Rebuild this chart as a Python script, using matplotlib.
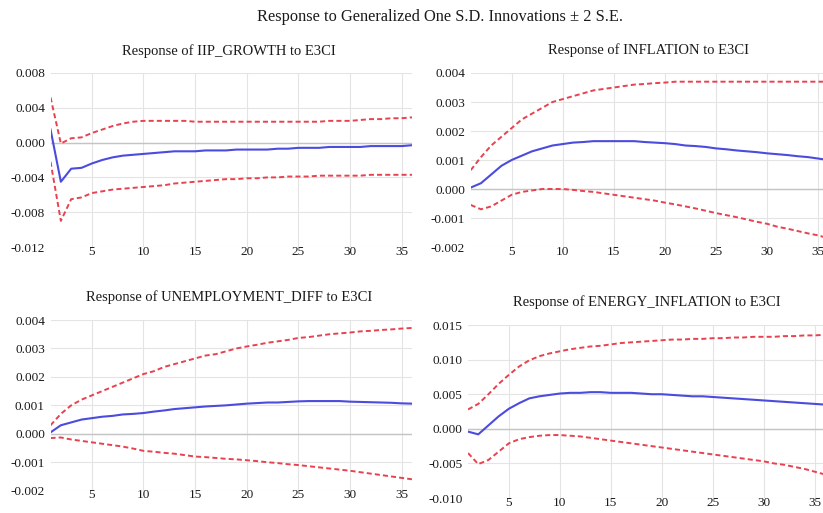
import numpy as np
import matplotlib
matplotlib.use("Agg")
import matplotlib.pyplot as plt

plt.rcParams['font.family'] = ['Liberation Serif', 'DejaVu Serif']

periods = np.arange(1, 37)

# IIP_GROWTH response
iip_resp = [0.0015, -0.0045, -0.0030, -0.0029, -0.0024, -0.0020, -0.0017, -0.0015, -0.0014,
            -0.0013, -0.0012, -0.0011, -0.0010, -0.0010, -0.0010, -0.0009, -0.0009, -0.0009,
            -0.0008, -0.0008, -0.0008, -0.0008, -0.0007, -0.0007, -0.0006, -0.0006, -0.0006,
            -0.0005, -0.0005, -0.0005, -0.0005, -0.0004, -0.0004, -0.0004, -0.0004, -0.0003]
iip_upper = [0.0052, -0.0001, 0.0005, 0.0006, 0.0011, 0.0015, 0.0019, 0.0022, 0.0024,
             0.0025, 0.0025, 0.0025, 0.0025, 0.0025, 0.0024, 0.0024, 0.0024, 0.0024,
             0.0024, 0.0024, 0.0024, 0.0024, 0.0024, 0.0024, 0.0024, 0.0024, 0.0024,
             0.0025, 0.0025, 0.0025, 0.0026, 0.0027, 0.0027, 0.0028, 0.0028, 0.0029]
iip_lower = [-0.0022, -0.0090, -0.0065, -0.0063, -0.0058, -0.0056, -0.0054, -0.0053, -0.0052,
             -0.0051, -0.0050, -0.0049, -0.0047, -0.0046, -0.0045, -0.0044, -0.0043, -0.0042,
             -0.0042, -0.0041, -0.0041, -0.0040, -0.0040, -0.0039, -0.0039, -0.0039, -0.0038,
             -0.0038, -0.0038, -0.0038, -0.0038, -0.0037, -0.0037, -0.0037, -0.0037, -0.0037]

# INFLATION response
infl_resp = [0.00005, 0.0002, 0.0005, 0.0008, 0.0010, 0.00115, 0.0013, 0.0014, 0.0015,
             0.00155, 0.0016, 0.00162, 0.00165, 0.00165, 0.00165, 0.00165, 0.00165, 0.00162,
             0.0016, 0.00158, 0.00155, 0.0015, 0.00148, 0.00145, 0.0014, 0.00137, 0.00133,
             0.0013, 0.00127, 0.00123, 0.0012, 0.00117, 0.00113, 0.0011, 0.00105, 0.0010]
infl_upper = [0.00065, 0.0011, 0.0015, 0.0018, 0.0021, 0.0024, 0.0026, 0.0028, 0.0030,
              0.0031, 0.0032, 0.0033, 0.0034, 0.00345, 0.0035, 0.00355, 0.0036, 0.00362,
              0.00365, 0.00367, 0.0037, 0.0037, 0.0037, 0.0037, 0.0037, 0.0037, 0.0037,
              0.0037, 0.0037, 0.0037, 0.0037, 0.0037, 0.0037, 0.0037, 0.0037, 0.0037]
infl_lower = [-0.00055, -0.0007, -0.0006, -0.0004, -0.0002, -0.0001, -0.00005, 0.0, 0.0,
              0.0, -0.00003, -0.00007, -0.0001, -0.00015, -0.0002, -0.00025, -0.0003, -0.00035,
              -0.0004, -0.00047, -0.00053, -0.0006, -0.00067, -0.00075, -0.00083, -0.0009, -0.00097,
              -0.00105, -0.00113, -0.0012, -0.0013, -0.00137, -0.00145, -0.00153, -0.0016, -0.0017]

# UNEMPLOYMENT_DIFF response
unemp_resp = [0.00005, 0.0003, 0.0004, 0.0005, 0.00055, 0.0006, 0.00063, 0.00068, 0.0007,
              0.00073, 0.00078, 0.00082, 0.00087, 0.0009, 0.00093, 0.00096, 0.00098, 0.0010,
              0.00103, 0.00106, 0.00108, 0.0011, 0.0011, 0.00112, 0.00114, 0.00115, 0.00115,
              0.00115, 0.00115, 0.00113, 0.00112, 0.00111, 0.0011, 0.00109, 0.00107, 0.00106]
unemp_upper = [0.0003, 0.0007, 0.0010, 0.0012, 0.00135, 0.0015, 0.00165, 0.0018, 0.00195,
               0.0021, 0.0022, 0.00235, 0.00245, 0.00255, 0.00265, 0.00275, 0.0028, 0.0029,
               0.0030, 0.00307, 0.00313, 0.0032, 0.00325, 0.0033, 0.00337, 0.0034, 0.00345,
               0.0035, 0.00353, 0.00356, 0.0036, 0.00362, 0.00365, 0.00367, 0.0037, 0.00372]
unemp_lower = [-0.00015, -0.00013, -0.0002, -0.00025, -0.0003, -0.00035, -0.0004, -0.00045, -0.00052,
               -0.0006, -0.00063, -0.00067, -0.0007, -0.00075, -0.0008, -0.00082, -0.00085, -0.00088,
               -0.0009, -0.00093, -0.00096, -0.0010, -0.00103, -0.00107, -0.0011, -0.00114, -0.00118,
               -0.00122, -0.00126, -0.0013, -0.00135, -0.0014, -0.00145, -0.0015, -0.00155, -0.0016]

# ENERGY_INFLATION response
energy_resp = [-0.0004, -0.0008, 0.0005, 0.0018, 0.0029, 0.0037, 0.0044, 0.0047, 0.0049,
               0.0051, 0.0052, 0.0052, 0.0053, 0.0053, 0.0052, 0.0052, 0.0052, 0.0051,
               0.0050, 0.0050, 0.0049, 0.0048, 0.0047, 0.0047, 0.0046, 0.0045, 0.0044,
               0.0043, 0.0042, 0.0041, 0.0040, 0.0039, 0.0038, 0.0037, 0.0036, 0.0035]
energy_upper = [0.0028, 0.0036, 0.0050, 0.0065, 0.0078, 0.0090, 0.0099, 0.0105, 0.0109,
                0.0112, 0.0115, 0.0117, 0.0119, 0.0120, 0.0122, 0.0124, 0.0125, 0.0126,
                0.0127, 0.0128, 0.0129, 0.0129, 0.0130, 0.0130, 0.0131, 0.0131, 0.0132,
                0.0132, 0.0133, 0.0133, 0.0133, 0.0134, 0.0134, 0.0135, 0.0135, 0.0136]
energy_lower = [-0.0035, -0.0051, -0.0045, -0.0033, -0.0021, -0.0015, -0.0012, -0.0010, -0.0009,
                -0.0009, -0.0010, -0.0011, -0.0013, -0.0015, -0.0017, -0.0019, -0.0021, -0.0023,
                -0.0025, -0.0027, -0.0029, -0.0031, -0.0033, -0.0035, -0.0037, -0.0039, -0.0041,
                -0.0043, -0.0045, -0.0047, -0.0050, -0.0052, -0.0055, -0.0058, -0.0062, -0.0066]

panels = [
    ("Response of IIP_GROWTH to E3CI", iip_resp, iip_upper, iip_lower,
     [-0.012, -0.008, -0.004, 0.0, 0.004, 0.008]),
    ("Response of INFLATION to E3CI", infl_resp, infl_upper, infl_lower,
     [-0.002, -0.001, 0.0, 0.001, 0.002, 0.003, 0.004]),
    ("Response of UNEMPLOYMENT_DIFF to E3CI", unemp_resp, unemp_upper, unemp_lower,
     [-0.002, -0.001, 0.0, 0.001, 0.002, 0.003, 0.004]),
    ("Response of ENERGY_INFLATION to E3CI", energy_resp, energy_upper, energy_lower,
     [-0.010, -0.005, 0.0, 0.005, 0.010, 0.015]),
]

# axes rectangles in figure fractions (right column runs past the figure edge)
rects = [
    [0.0614, 0.5185, 0.4392, 0.3392],
    [0.5720, 0.5185, 0.4346, 0.3392],
    [0.0614, 0.0435, 0.4392, 0.3327],
    [0.5687, 0.0292, 0.4338, 0.3372],
]
title_x = [229, 648, 229, 647]
title_y = [51, 50, 297, 302]

blue = '#4b4be0'
red = '#e8414f'
dash = (0, (2.6, 1.6))
W, H = 823, 513

fig = plt.figure(figsize=(W / 100, H / 100), dpi=100)

for (title, resp, upper, lower, yticks), rect, tx, ty in zip(panels, rects, title_x, title_y):
    ax = fig.add_axes(rect)
    for s in ax.spines.values():
        s.set_visible(False)
    ax.set_xlim(1, 36)
    ax.set_ylim(yticks[0], yticks[-1])
    ax.set_xticks([5, 10, 15, 20, 25, 30, 35])
    ax.set_yticks(yticks)
    ax.set_yticklabels([f"{v:.3f}" for v in yticks])
    ax.grid(True, color='#e4e4e4', linewidth=0.8)
    ax.set_axisbelow(True)
    ax.axhline(0, color='#c4c4c4', linewidth=1.0, zorder=1)
    ax.tick_params(axis='both', length=0, labelsize=9.5, colors='#1a1a1a')
    ax.tick_params(axis='x', pad=-1)
    ax.tick_params(axis='y', pad=4)
    ax.plot(periods, upper, color=red, linestyle=dash, linewidth=1.4, zorder=3)
    ax.plot(periods, lower, color=red, linestyle=dash, linewidth=1.4, zorder=3)
    ax.plot(periods, resp, color=blue, linewidth=1.5, zorder=4)
    fig.text(tx / W, 1 - ty / H, title, ha='center', va='center', fontsize=10.5, color='#1a1a1a')

fig.text(440 / W, 1 - 17 / H, "Response to Generalized One S.D. Innovations \u00b1 2 S.E.",
         ha='center', va='center', fontsize=11.8, color='#1a1a1a')

fig.savefig('out.png', dpi=100)
